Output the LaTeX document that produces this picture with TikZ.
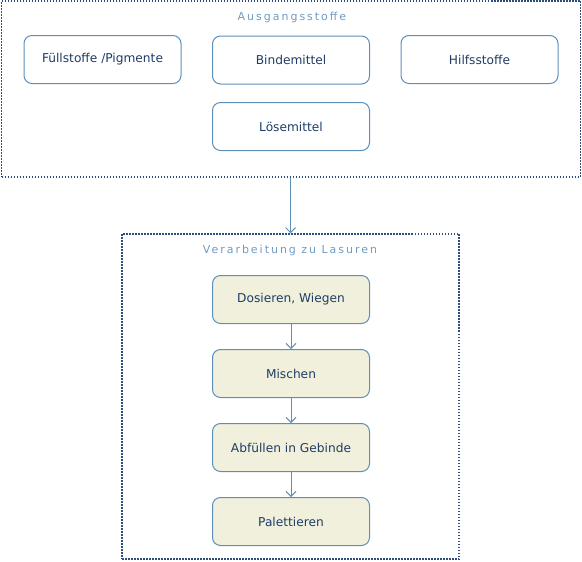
\documentclass[tikz,border=0pt]{standalone}
\usepackage{fontspec}
\setmainfont{DejaVu Sans}
\newfontfamily\titlefont[LetterSpace=18]{DejaVu Sans}
\usetikzlibrary{arrows.meta}
\definecolor{boxline}{HTML}{5E8FBA}
\definecolor{boxtext}{HTML}{1F3D66}
\definecolor{titlecol}{HTML}{6F9BC2}
\definecolor{dotcol}{HTML}{2E4F7E}
\definecolor{procfill}{HTML}{F0F0DC}
\tikzset{
  grp/.style={draw=dotcol, line width=1.5pt, dash pattern=on 1.5pt off 1.5pt, inner sep=0pt},
  srcbox/.style={draw=boxline, line width=1pt, rounded corners=8pt, fill=white,
    minimum width=157pt, minimum height=48pt, inner sep=0pt, text=boxtext, font=\fontsize{12.2}{14}\selectfont},
  procbox/.style={srcbox, fill=procfill},
  grptitle/.style={text=titlecol, font=\titlefont\fontsize{11}{13}\selectfont, inner sep=0pt},
  flow/.style={draw=boxline, line width=1pt, -{Straight Barb[length=5pt,width=10pt,line width=1pt]}}
}
\begin{document}
\begin{tikzpicture}[x=1pt,y=-1pt]
\useasboundingbox (0,0) rectangle (582,562);
% groups
\node[grp, minimum width=579pt, minimum height=176pt] (g1) at (291,89) {};
\node[grp, minimum width=337pt, minimum height=325pt] (g2) at (290.5,396.5) {};
\node[grptitle] (t1) at (292,17) {Ausgangsstoffe};
\node[grptitle] (t2) at (290,250) {Verarbeitung zu Lasuren};
% source boxes
\node[srcbox] (fp) at (102.5,59.5) {Füllstoffe /Pigmente};
\node[srcbox] (bm) at (291,60) {Bindemittel};
\node[srcbox] (hs) at (479.5,59.5) {Hilfsstoffe};
\node[srcbox] (lm) at (291,126.5) {Lösemittel};
% process boxes
\node[procbox] (dw) at (291,299.5) {Dosieren, Wiegen};
\node[procbox] (mi) at (291,373.5) {Mischen};
\node[procbox] (ab) at (291,447.5) {Abfüllen in Gebinde};
\node[procbox] (pa) at (291,521.5) {Palettieren};
% connectors
\draw[flow] (g1.south -| g2.north) -- (g2.north);
\draw[flow] (dw) -- (mi);
\draw[flow] (mi) -- (ab);
\draw[flow] (ab) -- (pa);
\end{tikzpicture}
\end{document}
